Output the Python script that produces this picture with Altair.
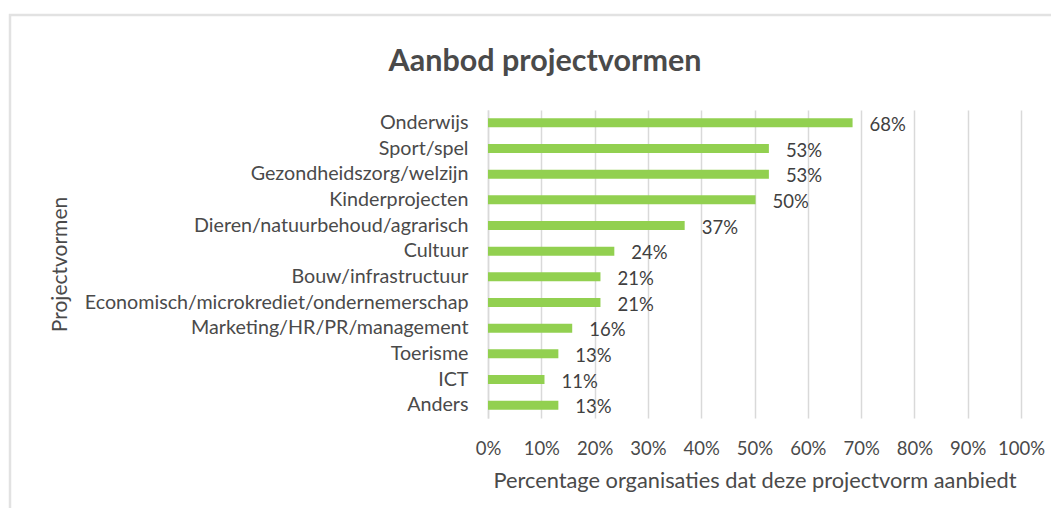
import altair as alt
import pandas as pd

categories = [
    "Onderwijs", "Sport/spel", "Gezondheidszorg/welzijn", "Kinderprojecten",
    "Dieren/natuurbehoud/agrarisch", "Cultuur", "Bouw/infrastructuur",
    "Economisch/microkrediet/ondernemerschap", "Marketing/HR/PR/management",
    "Toerisme", "ICT", "Anders",
]
values = [68.4, 52.7, 52.7, 50.2, 36.9, 23.7, 21.1, 21.1, 15.8, 13.2, 10.6, 13.2]
labels = ["68%", "53%", "53%", "50%", "37%", "24%", "21%", "21%", "16%", "13%", "11%", "13%"]
x_ticks = [0, 10, 20, 30, 40, 50, 60, 70, 80, 90, 100]
title_text = ["Aanbod projectvormen"]

FONT = "Lato"
TXT = "#4a4a4a"
GRID = "#d9d9d9"

df = pd.DataFrame({"cat": categories, "val": values, "label": labels})

x_enc = alt.X(
    "val:Q",
    scale=alt.Scale(domain=[0, 100], nice=False),
    axis=alt.Axis(
        values=x_ticks, labelExpr="datum.value + '%'", labelOverlap=False,
        labelFlush=False,
        title="Percentage organisaties dat deze projectvorm aanbiedt",
        grid=True, gridColor=GRID, gridWidth=1.5, domain=False, ticks=False,
        labelPadding=21, labelFontSize=18.5, labelColor=TXT, labelFont=FONT,
        titleFontSize=21.8, titleFont=FONT, titleColor=TXT, titleFontWeight="normal",
        titlePadding=13,
    ),
)
y_enc = alt.Y(
    "cat:N", sort=categories,
    scale=alt.Scale(paddingInner=0.65, paddingOuter=0.325),
    axis=alt.Axis(
        title="Projectvormen", domain=True, domainColor=GRID, domainWidth=1.5,
        ticks=False, grid=False, labelPadding=20, labelFontSize=19.7, labelLimit=600,
        labelColor=TXT, labelFont=FONT, titleFontSize=21, titleFont=FONT,
        titleColor=TXT, titleFontWeight="normal",
        titleX=-428, titleY=154, titleBaseline="middle", titleAlign="center",
        titleAngle=270,
    ),
)

frame = alt.Chart(pd.DataFrame({"a": [0]})).mark_rect(
    fillOpacity=0, stroke="#e2e2e2", strokeWidth=2.5
).encode(
    x=alt.value(-478), x2=alt.value(640), y=alt.value(-95), y2=alt.value(460)
)

title = alt.Chart(pd.DataFrame({"t": title_text})).mark_text(
    align="center", baseline="middle", fontSize=30.5, fontWeight="bold", font=FONT, color=TXT
).encode(x=alt.value(57), y=alt.value(-48), text="t:N")

bars = alt.Chart(df).mark_bar(color="#92D050").encode(x=x_enc, y=y_enc)

text = alt.Chart(df).mark_text(
    align="left", baseline="middle", dx=17, dy=2, fontSize=18.5, font=FONT, color="#404040"
).encode(x="val:Q", y=alt.Y("cat:N", sort=categories), text="label:N")

chart = alt.layer(frame, title, bars, text).properties(
    width=533, height=308,
    autosize=alt.AutoSizeParams(type="none"),
    padding={"left": 480, "top": 102, "right": 30, "bottom": 90},
).configure_view(strokeWidth=0)

chart.save("out.html", embed_options={"renderer": "svg", "actions": False})
